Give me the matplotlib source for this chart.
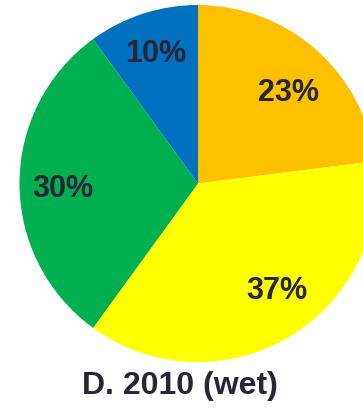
import numpy as np
import matplotlib
matplotlib.use("Agg")
import matplotlib.pyplot as plt

# Share of each category, clockwise from 12 o'clock
categories = ["Orange", "Yellow", "Green", "Blue"]
shares = [23, 37, 30, 10]
colors = ["#FFC000", "#FFFF00", "#00B050", "#0070C0"]
title = "D. 2010 (wet)"

# label placement: distance from centre (fraction of radius) and angular nudge (deg)
label_dist = [0.73, 0.73, 0.76, 0.78]
label_shift = [-2.5, 6.5, 1.0, -0.5]

W, H = 363, 409
fig = plt.figure(figsize=(W / 100, H / 100), dpi=100)
fig.patch.set_facecolor("white")

cx, cy, r = 198, 183.5, 178.5
ax = fig.add_axes([(cx - r) / W, (H - cy - r) / H, 2 * r / W, 2 * r / H])

wedges, texts = ax.pie(
    shares,
    colors=colors,
    startangle=90,
    counterclock=False,
    radius=1.0,
    wedgeprops=dict(linewidth=0),
)

total = sum(shares)
for w, v, d, s in zip(wedges, shares, label_dist, label_shift):
    mid = np.deg2rad((w.theta1 + w.theta2) / 2 + s)
    ax.text(d * np.cos(mid), d * np.sin(mid), f"{100 * v / total:.0f}%",
            ha="center", va="center_baseline",
            fontfamily="Liberation Sans", fontweight="bold",
            fontsize=22, color="#262636")

ax.set_xlim(-1, 1)
ax.set_ylim(-1, 1)
ax.set_aspect("equal")
ax.axis("off")

fig.text(180 / W, 1 - 394 / H, title, ha="center", va="baseline",
         fontfamily="Liberation Sans", fontweight="bold", fontsize=23,
         color="#262636")

fig.savefig("out.png", dpi=100)
